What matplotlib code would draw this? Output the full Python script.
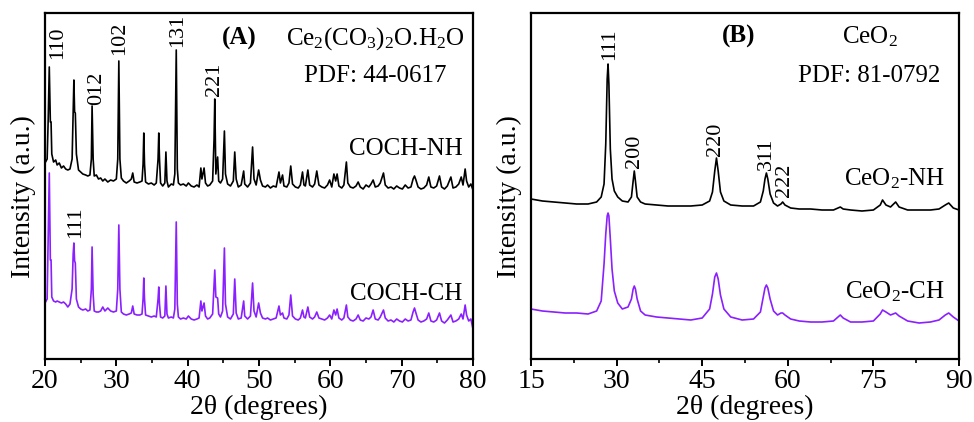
import matplotlib
matplotlib.use("Agg")
import matplotlib.pyplot as plt
from matplotlib.ticker import MultipleLocator

plt.rcParams['font.family'] = ['Liberation Serif', 'DejaVu Serif']
plt.rcParams['mathtext.fontset'] = 'custom'
plt.rcParams['mathtext.rm'] = 'Liberation Serif'
plt.rcParams['mathtext.it'] = 'Liberation Serif:italic'
plt.rcParams['mathtext.bf'] = 'Liberation Serif:bold'

# ---------------- Panel A data (2theta, intensity a.u.) ----------------
a_two_theta = [
    20.0, 20.3, 20.45, 20.6, 20.75, 20.85, 20.95, 21.2, 21.5, 21.7,
    22.0, 22.3, 22.6, 22.9, 23.2, 23.5, 23.8, 23.95, 24.05, 24.15,
    24.25, 24.4, 24.7, 25.0, 25.3, 25.7, 26.0, 26.3, 26.5, 26.6,
    26.75, 26.9, 27.2, 27.5, 27.8, 28.1, 28.4, 28.8, 29.2, 29.6,
    30.0, 30.2, 30.35, 30.5, 30.7, 31.0, 31.4, 31.8, 32.1, 32.3,
    32.5, 32.9, 33.3, 33.6, 33.75, 33.85, 33.95, 34.1, 34.5, 34.9,
    35.3, 35.6, 35.85, 35.95, 36.05, 36.2, 36.5, 36.8, 36.95, 37.1,
    37.3, 37.7, 38.0, 38.2, 38.4, 38.55, 38.7, 39.0, 39.4, 39.8,
    40.1, 40.5, 40.9, 41.3, 41.6, 41.85, 42.0, 42.3, 42.5, 42.8,
    43.1, 43.5, 43.7, 43.8, 43.95, 44.2, 44.35, 44.6, 44.9, 45.15,
    45.3, 45.6, 46.0, 46.4, 46.6, 46.8, 47.1, 47.5, 47.85, 48.0,
    48.4, 48.8, 49.1, 49.3, 49.6, 49.95, 50.2, 50.5, 50.9, 51.2,
    51.6, 52.0, 52.4, 52.8, 53.0, 53.3, 53.5, 53.9, 54.2, 54.45,
    54.7, 55.1, 55.5, 55.8, 56.1, 56.3, 56.5, 56.85, 57.1, 57.5,
    57.8, 58.1, 58.4, 58.8, 59.2, 59.6, 59.9, 60.2, 60.5, 60.75,
    60.95, 61.2, 61.6, 61.9, 62.25, 62.45, 62.8, 63.2, 63.6, 63.9,
    64.2, 64.6, 65.0, 65.4, 65.7, 66.0, 66.3, 66.7, 67.0, 67.45,
    67.7, 68.1, 68.5, 68.9, 69.3, 69.7, 70.1, 70.5, 70.9, 71.3,
    71.6, 71.8, 72.0, 72.3, 72.7, 73.1, 73.5, 73.8, 74.1, 74.5,
    74.9, 75.3, 75.6, 76.0, 76.4, 76.9, 77.2, 77.6, 78.0, 78.35,
    78.6, 78.9, 79.1, 79.4, 79.7, 80.0,
]
a_coch_nh = [
    196, 200, 240, 292, 237, 237, 205, 197, 199, 194,
    196, 191, 193, 190, 189, 190, 200, 250, 279, 247,
    246, 205, 189, 187, 185, 184, 183, 184, 200, 253,
    200, 183, 184, 180, 181, 178, 180, 177, 179, 178,
    180, 200, 298, 200, 181, 178, 176, 178, 180, 186,
    177, 176, 177, 178, 195, 226, 195, 177, 175, 176,
    174, 176, 200, 226, 200, 176, 173, 176, 207, 178,
    172, 175, 174, 185, 309, 190, 176, 174, 175, 173,
    176, 173, 172, 174, 172, 191, 180, 191, 176, 173,
    174, 178, 220, 260, 185, 202, 178, 176, 180, 228,
    185, 175, 173, 178, 207, 180, 172, 174, 188, 175,
    172, 176, 212, 180, 174, 189, 179, 173, 172, 174,
    171, 173, 172, 187, 176, 184, 173, 172, 176, 193,
    175, 172, 171, 174, 187, 174, 173, 189, 174, 172,
    175, 188, 174, 172, 171, 174, 179, 172, 185, 178,
    185, 173, 171, 174, 197, 176, 172, 171, 173, 177,
    172, 170, 174, 172, 175, 179, 172, 173, 176, 186,
    174, 171, 172, 170, 173, 171, 170, 174, 171, 172,
    180, 183, 179, 172, 170, 171, 174, 182, 172, 171,
    173, 183, 172, 170, 173, 182, 171, 172, 175, 182,
    174, 190, 178, 172, 175, 169,
]
a_coch_ch = [
    56, 60, 120, 186, 99, 99, 62, 58, 57, 58,
    57, 56, 57, 55, 52, 55, 70, 105, 116, 98,
    96, 60, 52, 50, 49, 50, 48, 49, 70, 112,
    65, 48, 47, 47, 48, 52, 48, 51, 48, 47,
    48, 70, 134, 70, 47, 45, 44, 45, 46, 53,
    45, 44, 44, 45, 60, 81, 60, 44, 43, 42,
    43, 42, 60, 72, 55, 42, 41, 43, 73, 45,
    41, 42, 41, 50, 137, 55, 42, 40, 41, 40,
    43, 40, 39, 40, 41, 58, 48, 56, 43, 40,
    41, 45, 75, 89, 62, 61, 45, 42, 48, 111,
    55, 42, 40, 45, 80, 46, 40, 41, 58, 43,
    40, 43, 76, 48, 42, 56, 46, 41, 40, 41,
    39, 40, 41, 53, 44, 46, 41, 40, 44, 64,
    43, 40, 39, 41, 49, 42, 41, 52, 42, 40,
    42, 47, 41, 40, 39, 41, 44, 40, 49, 44,
    50, 41, 39, 41, 54, 42, 39, 38, 40, 44,
    39, 38, 41, 40, 42, 49, 40, 39, 42, 49,
    41, 38, 39, 37, 40, 38, 37, 40, 38, 39,
    47, 51, 46, 39, 37, 38, 40, 46, 38, 37,
    39, 46, 38, 36, 39, 44, 37, 38, 40, 45,
    40, 54, 44, 38, 40, 30,
]

# ---------------- Panel B data ----------------
b_two_theta = [
    15, 17, 19, 21, 23, 25, 26.5, 27.3, 27.8, 28.1,
    28.35, 28.5, 28.65, 28.9, 29.2, 29.6, 30.2, 31, 32, 32.6,
    32.9, 33.1, 33.3, 33.6, 34.2, 35, 37, 39, 41, 43,
    45, 46.3, 46.8, 47.2, 47.5, 47.8, 48.2, 48.8, 50, 52,
    54, 55.2, 55.7, 56.0, 56.25, 56.5, 56.9, 57.5, 58.2, 58.8,
    59.1, 59.5, 60.5, 62, 64, 66, 68, 68.8, 69.2, 69.7,
    71, 73, 75, 76.2, 76.6, 77.2, 78, 78.9, 79.5, 81,
    83, 85, 86.5, 87.6, 88.2, 89, 90,
]
b_ceo2_nh = [
    160, 158, 157, 156, 155, 155, 157, 162, 175, 215,
    280, 295, 275, 210, 180, 168, 162, 158, 157, 162,
    178, 188, 178, 162, 157, 155, 154, 153, 153, 153,
    154, 158, 167, 188, 201, 188, 167, 158, 154, 153,
    153, 157, 168, 180, 186, 180, 165, 156, 153, 155,
    157, 154, 151, 150, 150, 149, 149, 151, 152, 150,
    149, 148, 149, 154, 159, 154, 152, 157, 152, 149,
    149, 149, 150, 154, 156, 151, 149,
]
b_ceo2_ch = [
    50, 48, 47, 46, 46, 45, 48, 58, 95, 125,
    143, 146, 143, 120, 90, 68, 56, 50, 52, 60,
    70, 73, 70, 60, 48, 44, 42, 41, 40, 39,
    41, 50, 65, 82, 86, 80, 64, 50, 42, 39,
    40, 47, 62, 71, 74, 71, 60, 48, 44, 46,
    46, 44, 40, 38, 37, 37, 38, 42, 44, 41,
    37, 37, 38, 45, 49, 47, 44, 46, 43, 38,
    36, 37, 39, 44, 46, 42, 38,
]

# peak labels
a_peak_labels = ["110", "012", "102", "131", "221"]
a_peak_pos = [21.7, 27.2, 30.5, 38.6, 43.8]
a_peak_y = [316, 271, 321, 329, 280]
a_ch_label = "111"
b_peak_labels = ["111", "200", "220", "311", "222"]
b_peak_pos = [28.75, 33.1, 47.4, 56.2, 59.5]
b_peak_y = [315, 208, 220, 205, 179]

a_xticks = [20, 30, 40, 50, 60, 70, 80]
b_xticks = [15, 30, 45, 60, 75, 90]

BLACK = '#000000'
PURPLE = '#8A1FFF'

fig = plt.figure(figsize=(9.74, 4.22), dpi=100)
axA = fig.add_axes([45/974, 63/422, 428/974, 346/422])
axB = fig.add_axes([531/974, 63/422, 428/974, 346/422])

def style(ax, xmin, xmax, xticks, minor):
    ax.set_xlim(xmin, xmax)
    ax.set_ylim(0, 346)
    ax.set_xticks(xticks)
    ax.xaxis.set_minor_locator(MultipleLocator(minor))
    ax.set_yticks([])
    for s in ax.spines.values():
        s.set_linewidth(1.6)
    ax.tick_params(axis='x', which='major', direction='out', length=5, width=1.4,
                   labelsize=20, pad=2, top=False)
    ax.tick_params(axis='x', which='minor', direction='out', length=3, width=1.2, top=False)
    ax.set_xlabel('2θ (degrees)', fontsize=20, labelpad=1)
    ax.set_ylabel('Intensity (a.u.)', fontsize=20)
    ax.yaxis.set_label_coords(-0.022, 0.47)

# Panel A
axA.plot(a_two_theta, a_coch_nh, color=BLACK, lw=1.2)
axA.plot(a_two_theta, a_coch_ch, color=PURPLE, lw=1.2)
style(axA, 20, 80, a_xticks, 5)
for lab, x, y in zip(a_peak_labels, a_peak_pos, a_peak_y):
    axA.text(x, y, lab, rotation=90, ha='center', va='center', fontsize=16)
axA.text(24.3, 137, a_ch_label, rotation=90, ha='center', va='center', fontsize=16)
axA.text(47.3, 314, '(A)', fontsize=18, fontweight='bold', ha='center', va='baseline')
axA.text(78.9, 314, r'Ce$_\mathrm{2}$(CO$_\mathrm{3}$)$_\mathrm{2}$O.H$_\mathrm{2}$O',
         fontsize=18, ha='right', va='baseline')
axA.text(66.3, 277, 'PDF: 44-0617', fontsize=18, ha='center', va='baseline')
axA.text(78.5, 204, 'COCH-NH', fontsize=18, ha='right', va='baseline')
axA.text(78.5, 59, 'COCH-CH', fontsize=18, ha='right', va='baseline')

# Panel B
axB.plot(b_two_theta, b_ceo2_nh, color=BLACK, lw=1.2)
axB.plot(b_two_theta, b_ceo2_ch, color=PURPLE, lw=1.2)
style(axB, 15, 90, b_xticks, 7.5)
for lab, x, y in zip(b_peak_labels, b_peak_pos, b_peak_y):
    axB.text(x, y, lab, rotation=90, ha='center', va='center', fontsize=16)
axB.text(51.3, 316, '(B)', fontsize=18, fontweight='bold', ha='center', va='baseline')
axB.text(74.4, 316, r'CeO$_\mathrm{2}$', fontsize=18, ha='center', va='baseline')
axB.text(74.2, 277, 'PDF: 81-0792', fontsize=18, ha='center', va='baseline')
axB.text(87.5, 174, r'CeO$_\mathrm{2}$-NH', fontsize=18, ha='right', va='baseline')
axB.text(87.5, 61, r'CeO$_\mathrm{2}$-CH', fontsize=18, ha='right', va='baseline')

fig.savefig('out.png', dpi=100)
